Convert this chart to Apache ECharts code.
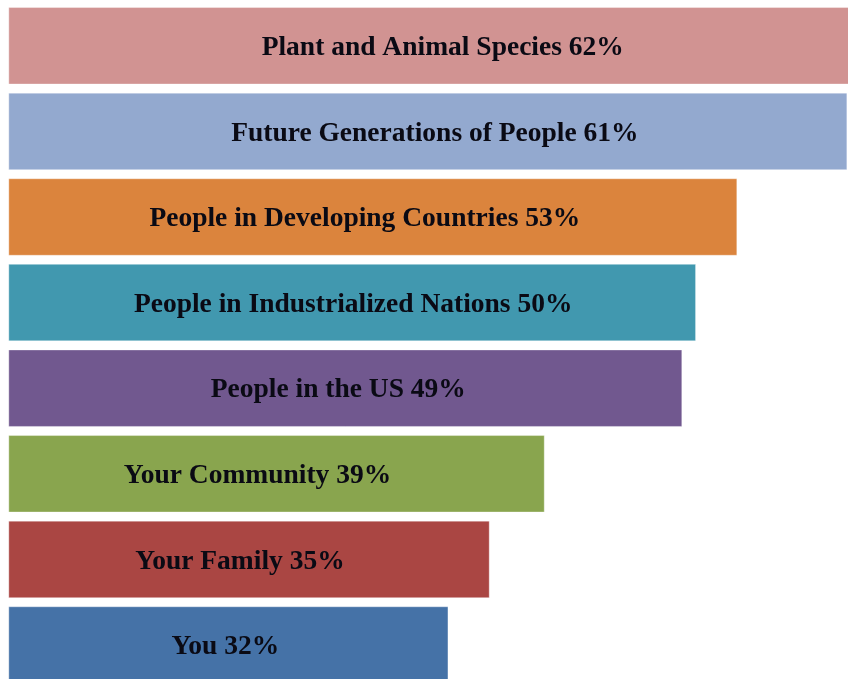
<!DOCTYPE html>
<html>
<head>
<meta charset="utf-8">
<script src="https://cdn.jsdelivr.net/npm/echarts@6/dist/echarts.min.js"></script>
<style>
html,body{margin:0;padding:0;background:#fff;}
#chart{width:848px;height:679px;}
</style>
</head>
<body>
<div id="chart"></div>
<script>
const categories = ["Plant and Animal Species", "Future Generations of People", "People in Developing Countries", "People in Industrialized Nations", "People in the US", "Your Community", "Your Family", "You"];
const values = [62, 61, 53, 50, 49, 39, 35, 32];
const colors = ["#D19392", "#93A9CF", "#DB843D", "#4198AF", "#71588F", "#89A54E", "#AA4643", "#4572A7"];
// horizontal nudge of each label from the bar centre (layout only)
const labelShift = [8, 7, -8, 1, -7, -19, -9, -3];

const chart = echarts.init(document.getElementById('chart'), null, {renderer: 'canvas'});
chart.setOption({
  animation: false,
  grid: {left: 8.3, top: 3, width: 1375.5, height: 684.8, containLabel: false, outerBoundsMode: 'none'},
  xAxis: {type: 'value', min: 0, max: 100, show: false},
  yAxis: {type: 'category', data: categories, inverse: true, show: false},
  series: [{
    type: 'bar',
    barWidth: 77.5,
    clip: false,
    data: values.map((v, i) => ({
      value: v,
      itemStyle: {color: colors[i], borderColor: 'rgba(255,255,255,0.35)', borderWidth: 1},
      label: {offset: [labelShift[i], 2]}
    })),
    label: {
      show: true,
      position: 'inside',
      formatter: p => p.name + ' ' + p.value + '%',
      fontFamily: '"Liberation Serif", "Times New Roman", serif',
      fontWeight: 'bold',
      fontSize: 27.5,
      color: '#0a0a14'
    }
  }]
});
</script>
</body>
</html>
